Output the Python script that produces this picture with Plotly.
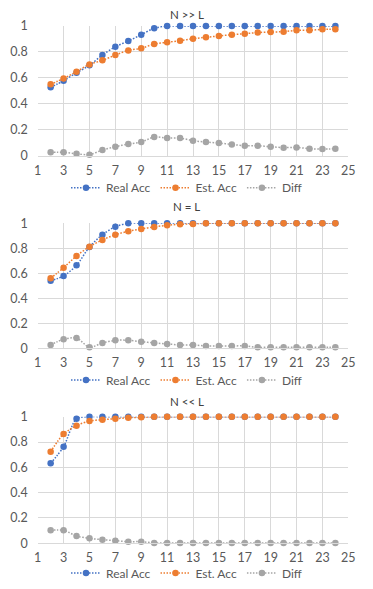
import plotly.graph_objects as go

X = list(range(2, 25))

# N >> L
real_1 = [0.527, 0.578, 0.64, 0.697, 0.776, 0.84, 0.884, 0.933, 0.982, 1.0, 1.0, 1.0,
          1.0, 1.0, 1.0, 1.0, 1.0, 1.0, 1.0, 1.0, 1.0, 1.0, 1.0]
est_1 = [0.55, 0.596, 0.648, 0.704, 0.735, 0.776, 0.812, 0.828, 0.861, 0.874, 0.887, 0.902,
         0.913, 0.923, 0.933, 0.941, 0.949, 0.954, 0.956, 0.967, 0.967, 0.974, 0.974]
diff_1 = [0.026, 0.026, 0.015, 0.008, 0.044, 0.069, 0.09, 0.105, 0.144, 0.136, 0.136, 0.116,
          0.105, 0.098, 0.087, 0.077, 0.077, 0.069, 0.062, 0.064, 0.054, 0.051, 0.054]

# N = L
real_2 = [0.541, 0.579, 0.664, 0.811, 0.909, 0.973, 1.0, 1.0, 1.0, 1.0, 1.0, 1.0,
          1.0, 1.0, 1.0, 1.0, 1.0, 1.0, 1.0, 1.0, 1.0, 1.0, 1.0]
est_2 = [0.56, 0.645, 0.739, 0.813, 0.867, 0.909, 0.936, 0.955, 0.971, 0.984, 0.992, 0.995,
         1.0, 1.0, 1.0, 1.0, 1.0, 1.0, 1.0, 1.0, 1.0, 1.0, 1.0]
diff_2 = [0.027, 0.072, 0.083, 0.008, 0.043, 0.064, 0.064, 0.053, 0.043, 0.035, 0.027, 0.027,
          0.019, 0.019, 0.019, 0.019, 0.008, 0.008, 0.008, 0.008, 0.008, 0.008, 0.008]

# N << L
real_3 = [0.632, 0.763, 0.984, 1.0, 1.0, 1.0, 1.0, 1.0, 1.0, 1.0, 1.0, 1.0,
          1.0, 1.0, 1.0, 1.0, 1.0, 1.0, 1.0, 1.0, 1.0, 1.0, 1.0]
est_3 = [0.724, 0.863, 0.929, 0.966, 0.976, 0.984, 0.992, 0.995, 1.0, 1.0, 1.0, 1.0,
         1.0, 1.0, 1.0, 1.0, 1.0, 1.0, 1.0, 1.0, 1.0, 1.0, 1.0]
diff_3 = [0.103, 0.103, 0.058, 0.039, 0.029, 0.021, 0.013, 0.013, 0.003, 0.003, 0.003, 0.003,
          0.003, 0.003, 0.003, 0.003, 0.003, 0.003, 0.003, 0.003, 0.003, 0.003, 0.003]

TITLES = ["N >> L", "N = L", "N << L"]
NAMES = ["Real Acc", "Est. Acc", "Diff"]
COLORS = ["#4472C4", "#ED7D31", "#A5A5A5"]
FONT = "Lato, 'Open Sans', sans-serif"
TEXT_COLOR = "#595959"
GRID = "#D9D9D9"

# page body keeps its 8px margin, so the figure is 16px smaller than the window
PAD = 8
W, H = 373 - 2 * PAD, 589 - 2 * PAD
PLOT_X = ((37.7 - PAD) / W, (348.3 - PAD) / W)
TITLE_X = (186.5 - PAD) / W
# (top px, bottom px, title px, legend px) in window coordinates
PANELS = [(26, 155.7, 14, 187.7), (223.3, 348.3, 206.7, 380), (416.7, 543.3, 401.7, 573)]
DATA = [(real_1, est_1, diff_1), (real_2, est_2, diff_2), (real_3, est_3, diff_3)]


def py(px):
    return 1 - (px - PAD) / H


fig = go.Figure()
layout = {}
annotations = []
for i, ((top, bot, tpx, lpx), series) in enumerate(zip(PANELS, DATA)):
    n = "" if i == 0 else str(i + 1)
    xa, ya = "x" + n, "y" + n
    leg = "legend" + n
    for name, vals, color in zip(NAMES, series, COLORS):
        fig.add_trace(go.Scatter(
            x=X, y=vals, name=name, xaxis=xa, yaxis=ya, legend=leg,
            mode="lines+markers", cliponaxis=False,
            line=dict(color=color, width=1.5, dash="1.5px,1.5px", shape="spline", smoothing=0.8),
            marker=dict(color=color, size=6.5),
        ))
    layout["xaxis" + n] = dict(
        domain=PLOT_X, anchor=ya, range=[1, 25], tick0=1, dtick=2, automargin=False,
        showgrid=True, gridcolor=GRID, gridwidth=1, zeroline=False,
        showline=True, linecolor=GRID, ticks="", ticklabelstandoff=3,
        tickfont=dict(family=FONT, size=12.5, color=TEXT_COLOR),
    )
    layout["yaxis" + n] = dict(
        domain=(py(bot), py(top)), anchor=xa, range=[0, 1], dtick=0.2, automargin=False,
        showgrid=True, gridcolor=GRID, gridwidth=1, zeroline=False,
        showline=False, ticks="", ticklabelstandoff=9,
        tickfont=dict(family=FONT, size=12.5, color=TEXT_COLOR),
    )
    layout[leg] = dict(
        orientation="h", x=TITLE_X, xanchor="center", y=py(lpx), yanchor="middle",
        font=dict(family=FONT, size=12, color=TEXT_COLOR),
        bgcolor="rgba(0,0,0,0)", itemwidth=30,
    )
    annotations.append(dict(
        text=TITLES[i], x=TITLE_X, y=py(tpx), xref="paper", yref="paper",
        xanchor="center", yanchor="middle", showarrow=False,
        font=dict(family=FONT, size=11.5, color="#404040"),
    ))

fig.update_layout(
    width=W, height=H, margin=dict(l=0, r=0, t=0, b=0, autoexpand=False),
    paper_bgcolor="white", plot_bgcolor="white",
    annotations=annotations, **layout,
)

fig.write_html("out.html")
